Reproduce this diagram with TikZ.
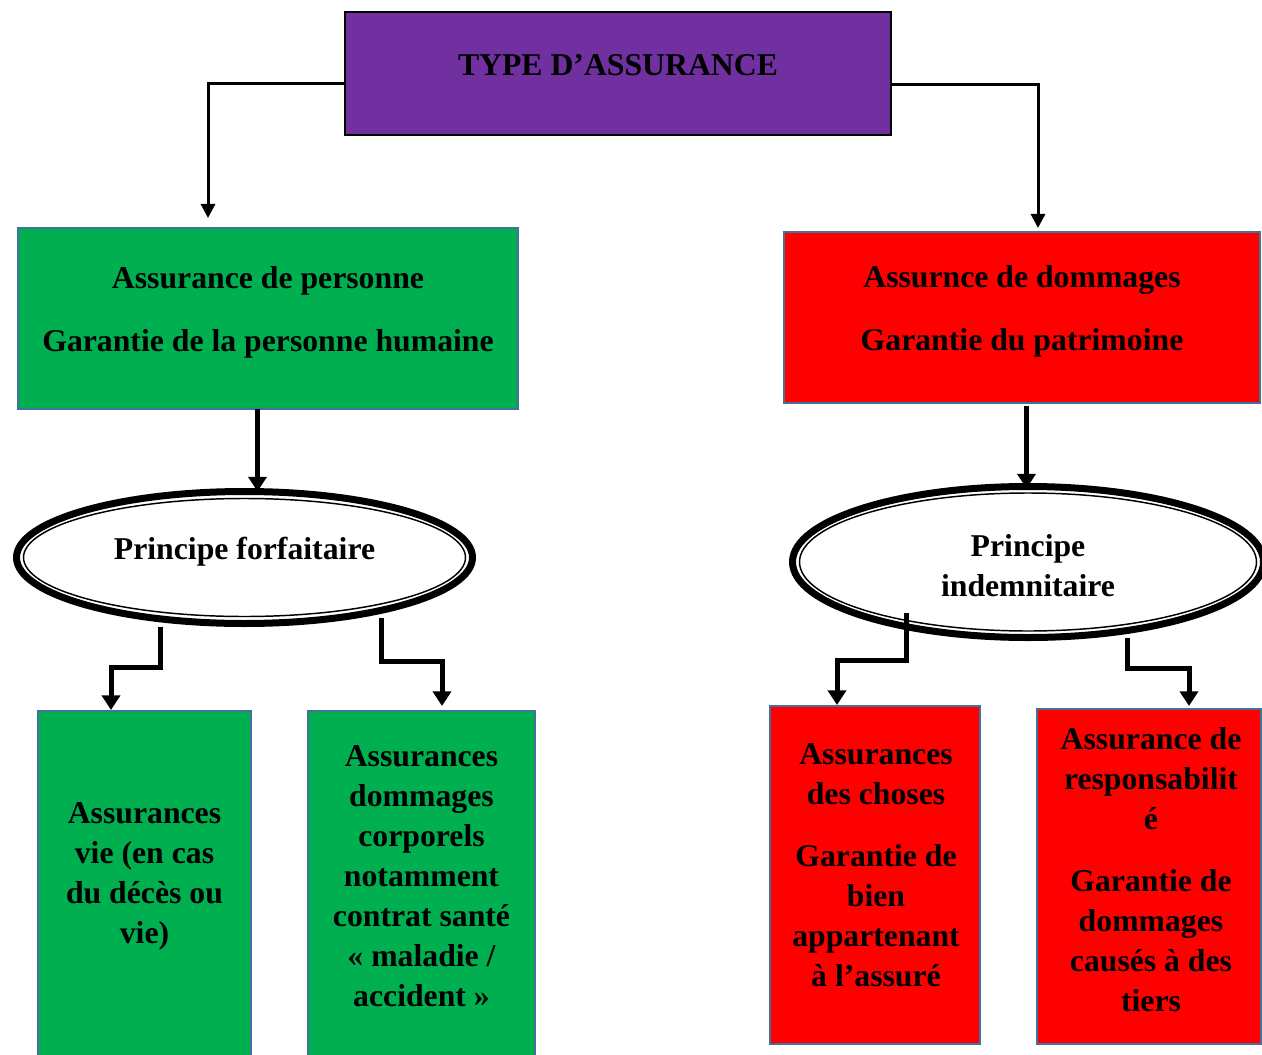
\documentclass[tikz,border=0pt]{standalone}
\usepackage{fontspec}
\setmainfont{Liberation Serif}
\usetikzlibrary{shapes.geometric,arrows.meta}
\definecolor{vert}{HTML}{00B050}
\definecolor{rouge}{HTML}{FF0000}
\definecolor{violet}{HTML}{7030A0}
\definecolor{bord}{HTML}{41719C}
\begin{document}
\begin{tikzpicture}[x=0.75pt,y=-0.75pt,
  box/.style={draw=bord,line width=1.5pt,inner sep=0pt,outer sep=0pt},
  gbox/.style={box,fill=vert},
  rbox/.style={box,fill=rouge},
  oval/.style={ellipse,draw=black,line width=5.25pt,fill=white,inner sep=0pt,outer sep=0pt},
  txt/.style={align=center,inner sep=0pt,font=\fontsize{23.8}{30}\selectfont\bfseries},
  thinarr/.style={draw=black,line width=2.25pt,-{Triangle[width=10.5pt,length=10.5pt]}},
  thickarr/.style={draw=black,line width=3.75pt,-{Triangle[width=13.5pt,length=11pt]}}
]
\useasboundingbox (0,0) rectangle (1262,1055);
\clip (0,0) rectangle (1262,1055);
\fill[white] (0,0) rectangle (1262,1055);

% top
\node[draw=black,line width=1.5pt,fill=violet,minimum width=409.5pt,minimum height=92.25pt,inner sep=0pt,outer sep=0pt] (top) at (618,73.5) {};
\node[txt] (ttop) at (618,65) {TYPE D’ASSURANCE};

% level 2
\node[gbox,minimum width=375pt,minimum height=135.75pt] (g1) at (268,318.5) {};
\node[txt] (tg1) at (268,312.5) {Assurance de personne\\[17pt]Garantie de la personne humaine};
\node[rbox,minimum width=357pt,minimum height=128.25pt] (r1) at (1022,317.5) {};
\node[txt] (tr1) at (1022,311.5) {Assurnce de dommages\\[17pt]Garantie du patrimoine};

% ellipses
\node[oval,minimum width=342pt,minimum height=99pt] (e1) at (244.5,557.5) {};
\draw[black,line width=1.1pt] (e1.center) ellipse (221 and 59);
\node[txt] (te1) at (244.5,552) {Principe forfaitaire};
\node[oval,minimum width=353.25pt,minimum height=113.25pt] (e2) at (1028,562) {};
\draw[black,line width=1.1pt] (e2.center) ellipse (228.5 and 69);
\node[txt] (te2) at (1028,565.5) {Principe\\indemnitaire};

% bottom boxes
\node[gbox,minimum width=159.75pt,minimum height=265.5pt] (b1) at (144.5,888) {};
\node[txt] (tb1) at (144.5,876.5) {Assurances\\vie (en cas\\du décès ou\\vie)};
\node[gbox,minimum width=170.25pt,minimum height=265.5pt] (b2) at (421.5,888) {};
\node[txt] (tb2) at (421.5,876) {Assurances\\dommages\\corporels\\notamment\\contrat santé\\« maladie /\\accident »};
\node[rbox,minimum width=157.5pt,minimum height=253.5pt] (b3) at (875,875) {};
\node[txt] (tb3) at (876,865.5) {Assurances\\des choses\\[16.5pt]Garantie de\\bien\\appartenant\\à l’assuré};
\node[rbox,minimum width=168pt,minimum height=251.25pt] (b4) at (1149,876.5) {};
\node[txt] (tb4) at (1151,869.5) {Assurance de\\responsabilit\\é\\[16.5pt]Garantie de\\dommages\\causés à des\\tiers};

% connectors
\draw[thinarr] ([shift={(0,10.5)}]top.west) -| ([shift={(-60,-10)}]g1.north);
\draw[thinarr] ([shift={(0,11.5)}]top.east) -| ([shift={(16,-4)}]r1.north);
\draw[thickarr] ([shift={(-10.5,0)}]g1.south) -- ([shift={(13,0)}]e1.north);
\draw[thickarr] ([shift={(4.5,3)}]r1.south) -- ([shift={(-1.5,2)}]e2.north);
\draw[thickarr] ([shift={(-84.5,3)}]e1.south) -- ++(0,40.5) -| ([shift={(-33.5,-1)}]b1.north);
\draw[thickarr] ([shift={(136.5,-5.5)}]e1.south) -- ++(0,43) -| ([shift={(20.5,-5)}]b2.north);
\draw[thickarr] ([shift={(-122,-24.5)}]e2.south) -- ++(0,47) -| ([shift={(-38,-1)}]b3.north);
\draw[thickarr] ([shift={(99,0)}]e2.south) -- ++(0,31) -| ([shift={(40,-3)}]b4.north);
\end{tikzpicture}
\end{document}
